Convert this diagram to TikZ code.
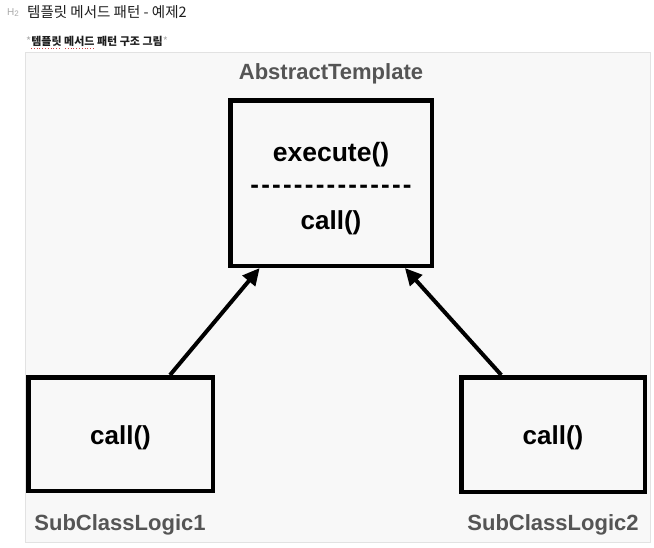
\documentclass[tikz,border=0pt]{standalone}
\usepackage{fontspec}
\setmainfont{Liberation Sans}
\newfontfamily\kr{Noto Sans CJK KR}
\usetikzlibrary{arrows.meta}
\definecolor{framefill}{HTML}{F8F8F8}
\definecolor{frameline}{HTML}{E2E2E2}
\definecolor{labelgray}{HTML}{555555}
\definecolor{headgray}{HTML}{AAAAAA}
\definecolor{headtext}{HTML}{1E1E1E}
\definecolor{spellred}{HTML}{D04040}
\def\hy{\makebox[10.9pt]{-}}
\tikzset{
  umlbox/.style={draw=black, line width=4.5pt, rectangle, inner sep=0pt},
  classlabel/.style={text=labelgray, font=\bfseries\fontsize{22}{26}\selectfont, inner sep=0pt},
  method/.style={font=\bfseries\fontsize{26}{30}\selectfont, inner sep=0pt},
  inherit/.style={line width=4pt, -{Triangle[length=17pt,width=16pt]}}
}
\begin{document}
\begin{tikzpicture}[x=1pt,y=-1pt]
\useasboundingbox (0,0) rectangle (654,547);
\fill[white] (0,0) rectangle (654,547);
% frame
\draw[draw=frameline, fill=framefill, line width=1pt] (25,52) rectangle (650,542);
% heading
\node[anchor=west, inner sep=0pt, text=headgray, font=\fontsize{10}{12}\selectfont] (h2) at (7,13) {H\raisebox{-1pt}{\fontsize{8}{9}\selectfont 2}};
\node[anchor=west, inner sep=0pt, text=headtext, font=\kr\fontsize{14.5}{17}\selectfont] (title) at (27,12) {템플릿 메서드 패턴 - 예제2};
\node[anchor=west, inner sep=0pt, text=headtext, font=\kr\bfseries\fontsize{11}{13}\selectfont] (caption) at (26,41) {\textcolor{headgray}{\mdseries*}템플릿 메서드 패턴 구조 그림\textcolor{headgray}{\mdseries*}};
\draw[spellred, line width=0.8pt, dotted] (31,48.5) -- (61,48.5);
\draw[spellred, line width=0.8pt, dotted] (65,48.5) -- (95,48.5);
% boxes
\node[umlbox, minimum width=201.5pt, minimum height=165.5pt] (tmpl) at (331,183) {};
\node[method, font=\bfseries\fontsize{26.5}{30}\selectfont] (exec) at (331,155) {execute()};
\node[method] (sep) at (331,189) {\hy\hy\hy\hy\hy\hy\hy\hy\hy\hy\hy\hy\hy\hy\hy};
\node[method] (callt) at (331,223) {call()};
\node[classlabel] (tname) at (331,74) {AbstractTemplate};
\node[umlbox, minimum width=184.5pt, minimum height=113.5pt] (sub1) at (120.5,434) {};
\node[umlbox, minimum width=183.5pt, minimum height=114.5pt] (sub2) at (553,434.5) {};
\node[method] (call1) at ([yshift=-4pt]sub1.center) {call()};
\node[method] (call2) at ([yshift=-3.5pt]sub2.center) {call()};
\node[classlabel] (s1name) at (120,525) {SubClassLogic1};
\node[classlabel] (s2name) at (553,525) {SubClassLogic2};
% arrows
\draw[inherit] (sub1.50) -- (tmpl.230);
\draw[inherit] (sub2.131) -- (tmpl.311.5);
\end{tikzpicture}
\end{document}
